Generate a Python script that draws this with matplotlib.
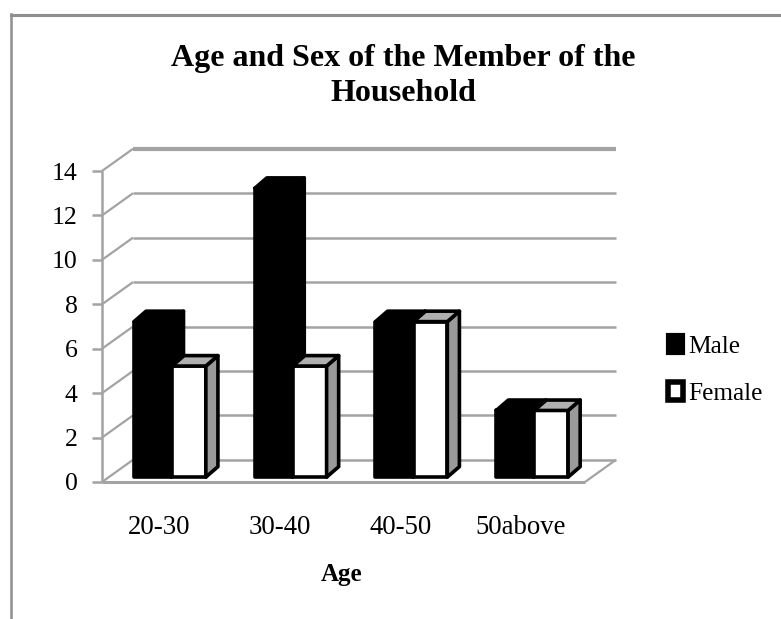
import matplotlib
matplotlib.use('Agg')
import matplotlib.pyplot as plt
from matplotlib.lines import Line2D
from matplotlib.patches import Patch, Polygon

categories = ['20-30', '30-40', '40-50', '50above']
male = [7, 13, 7, 3]
female = [5, 5, 7, 3]
y_ticks = [0, 2, 4, 6, 8, 10, 12, 14]

W, H = 781, 619
GRID = '#a3a3a3'
SERIF = 'Liberation Serif'

# 3d look: the back wall and the bar depth are plain offsets in data units
WALL_DX, WALL_DY = 0.257, 1.0
BAR_DX, BAR_DY = 0.1, 0.47
BASE = 0.22
MALE_X, FEMALE_X = 0.265, 0.58
MALE_W, FEMALE_W = 0.31, 0.28

plt.rcParams['font.family'] = [SERIF, 'DejaVu Serif']

fig = plt.figure(figsize=(W / 100, H / 100), dpi=100, facecolor='white')
ax = fig.add_axes([102 / W, 1 - 482 / H, 483 / W, 311 / H])
ax.set_xlim(0, 4)
ax.set_ylim(0, 14)
ax.patch.set_visible(False)
for s in ax.spines.values():
    s.set_visible(False)


def glin(xs, ys, lw=1.6, color=GRID, z=1):
    ax.plot(xs, ys, color=color, lw=lw, clip_on=False, zorder=z, solid_capstyle='butt')


# floor, back wall lines and the diagonals down to the axis
for v in y_ticks:
    lw = 3.0 if v == y_ticks[-1] else 1.8
    glin([WALL_DX, 4 + WALL_DX], [v + WALL_DY, v + WALL_DY], lw=lw)
    glin([0, WALL_DX], [v, v + WALL_DY])
glin([0, 0], [0, y_ticks[-1]], lw=1.8)
glin([0, 4], [0, 0], lw=2.2)
glin([4, 4 + WALL_DX], [0, WALL_DY])


def bar_3d(x0, width, value, front, side, top, z):
    x1 = x0 + width
    y1 = BASE + value
    kw = dict(edgecolor='black', linewidth=2.6, joinstyle='round', clip_on=False, zorder=z)
    ax.bar(x0, value, width, bottom=BASE, align='edge', color=front, **kw)
    ax.add_patch(Polygon([(x1, BASE), (x1 + BAR_DX, BASE + BAR_DY), (x1 + BAR_DX, y1 + BAR_DY), (x1, y1)],
                         facecolor=side, **kw))
    ax.add_patch(Polygon([(x0, y1), (x0 + BAR_DX, y1 + BAR_DY), (x1 + BAR_DX, y1 + BAR_DY), (x1, y1)],
                         facecolor=top, **kw))


for i in range(len(categories)):
    bar_3d(i + MALE_X, MALE_W, male[i], 'black', 'black', 'black', 3)
    bar_3d(i + FEMALE_X, FEMALE_W, female[i], 'white', '#9a9a9a', '#b0b0b0', 4)

ax.set_xticks([i + 0.47 for i in range(len(categories))])
ax.set_xticklabels(categories, fontsize=19.3)
ax.tick_params(axis='x', length=0, pad=24)
ax.set_yticks(y_ticks)
ax.tick_params(axis='y', length=7, width=1.8, color=GRID, labelsize=18.5, pad=10.5)

fig.text(403 / W, 1 - 76 / H, 'Age and Sex of the Member of the\nHousehold', ha='center', va='center',
         fontsize=23, fontweight='bold', linespacing=1.3)
fig.text(342 / W, 1 - 574 / H, 'Age', ha='center', va='center', fontsize=18, fontweight='bold')

handles = [Patch(facecolor='black', edgecolor='black', linewidth=3, joinstyle='round', label='Male'),
           Patch(facecolor='white', edgecolor='black', linewidth=4, joinstyle='round', label='Female')]
fig.legend(handles=handles, loc='center left', bbox_to_anchor=(668 / W, 1 - 370 / H), frameon=False,
           fontsize=18.3, handlelength=0.58, handleheight=0.7, handletextpad=0.2, labelspacing=0.95,
           borderpad=0, borderaxespad=0)

# page frame around the chart
fig.add_artist(Line2D([11 / W, 1], [1 - 15 / H, 1 - 15 / H], color='#8f8f8f', lw=2.2))
fig.add_artist(Line2D([11 / W, 11 / W], [0, 1 - 14 / H], color='#8f8f8f', lw=1.8))

fig.savefig('out.png', dpi=100)
